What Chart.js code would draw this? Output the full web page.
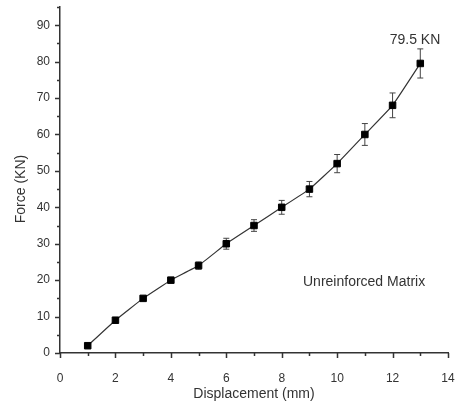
<!DOCTYPE html>
<html>
<head>
<meta charset="utf-8">
<script src="https://cdn.jsdelivr.net/npm/chart.js@4/dist/chart.umd.min.js"></script>
<style>
    html, body { margin: 0; padding: 0; background: #fff; }
    #wrap { width: 456px; height: 405px; position: relative; }
</style>
</head>
<body>
<div id="wrap"><canvas id="forceChart"></canvas></div>
<script>
// Datos
const displacement = [1, 2, 3, 4, 5, 6, 7, 8, 9, 10, 11, 12, 13];
const force = [2, 9, 15, 20, 24, 30, 35, 40, 45, 52, 60, 68, 79.5];
const forceErr = [0, 0, 0, 0.5, 1, 1.5, 1.6, 1.9, 2.1, 2.5, 3, 3.4, 4];
const xTicks = [0, 2, 4, 6, 8, 10, 12, 14];
const yTicks = [0, 10, 20, 30, 40, 50, 60, 70, 80, 90];

const FONT = "'Liberation Sans', Arial, sans-serif";
const INK = '#333';

// Barras de error (debajo de los puntos)
const errorBars = {
    id: 'errorBars',
    beforeDatasetsDraw(chart) {
        const { ctx, scales: { x, y } } = chart;
        ctx.save();
        ctx.strokeStyle = '#444';
        ctx.lineWidth = 1;
        displacement.forEach((d, i) => {
            const e = forceErr[i];
            if (!e) return;
            const px = x.getPixelForValue(d);
            const top = y.getPixelForValue(force[i] + e);
            const bot = y.getPixelForValue(force[i] - e);
            ctx.beginPath();
            ctx.moveTo(px, top); ctx.lineTo(px, bot);
            ctx.moveTo(px - 3, top); ctx.lineTo(px + 3, top);
            ctx.moveTo(px - 3, bot); ctx.lineTo(px + 3, bot);
            ctx.stroke();
        });
        ctx.restore();
    }
};

// Marcas de ejes (mayores y menores) y textos
const axisDecor = {
    id: 'axisDecor',
    afterDraw(chart) {
        const { ctx, chartArea: a, scales: { x, y } } = chart;
        ctx.save();
        ctx.strokeStyle = INK;
        ctx.lineWidth = 1.5;
        ctx.beginPath();
        x.ticks.forEach(t => {
            const px = Math.round(x.getPixelForValue(t.value)) + 0.5;
            const len = t.value % 2 === 0 ? 5 : 3;
            ctx.moveTo(px, a.bottom); ctx.lineTo(px, a.bottom + len);
        });
        y.ticks.forEach(t => {
            const py = Math.round(y.getPixelForValue(t.value)) + 0.5;
            const len = t.value % 10 === 0 ? 5 : 3;
            ctx.moveTo(a.left, py); ctx.lineTo(a.left - len, py);
        });
        ctx.stroke();

        ctx.fillStyle = INK;
        ctx.font = '14px ' + FONT;
        ctx.textAlign = 'center';
        ctx.textBaseline = 'middle';
        ctx.fillText('Displacement (mm)', (a.left + a.right) / 2, 394);
        ctx.fillText('79.5 KN', 415, 40);
        ctx.textAlign = 'left';
        ctx.fillText('Unreinforced Matrix', 303, 282);
        ctx.translate(21, 189);
        ctx.rotate(-Math.PI / 2);
        ctx.textAlign = 'center';
        ctx.fillText('Force (KN)', 0, 0);
        ctx.restore();
    }
};

new Chart(document.getElementById('forceChart'), {
    type: 'line',
    data: {
        datasets: [{
            label: 'Unreinforced Matrix',
            data: displacement.map((d, i) => ({ x: d, y: force[i] })),
            borderColor: '#333',
            borderWidth: 1.2,
            tension: 0.1,
            pointStyle: 'rect',
            pointRadius: 4.6,
            pointBackgroundColor: '#000',
            pointBorderColor: '#000',
            pointBorderWidth: 1
        }]
    },
    options: {
        responsive: true,
        maintainAspectRatio: false,
        animation: false,
        layout: { padding: { top: 7, right: 8, left: 0, bottom: 0 } },
        plugins: {
            legend: { display: false },
            tooltip: { enabled: false }
        },
        scales: {
            x: {
                type: 'linear',
                min: 0,
                max: 14,
                afterFit: s => {
                    s.height = 52;
                    s.paddingLeft = 0;
                    s.paddingRight = 0;
                },
                grid: { display: false, drawTicks: false },
                border: { display: true, color: INK, width: 1.5 },
                ticks: {
                    stepSize: 1,
                    maxRotation: 0,
                    autoSkip: false,
                    padding: 18,
                    color: INK,
                    font: { size: 12, family: FONT },
                    callback: v => xTicks.includes(v) ? String(v) : ''
                }
            },
            y: {
                min: 0,
                max: 95,
                afterFit: s => {
                    s.width = 60;
                    s.paddingTop = 0;
                    s.paddingBottom = 0;
                },
                grid: { display: false, drawTicks: false },
                border: { display: true, color: INK, width: 1.5 },
                ticks: {
                    stepSize: 5,
                    autoSkip: false,
                    padding: 10,
                    color: INK,
                    font: { size: 12, family: FONT },
                    callback: v => yTicks.includes(v) ? String(v) : ''
                }
            }
        }
    },
    plugins: [errorBars, axisDecor]
});
</script>
</body>
</html>
